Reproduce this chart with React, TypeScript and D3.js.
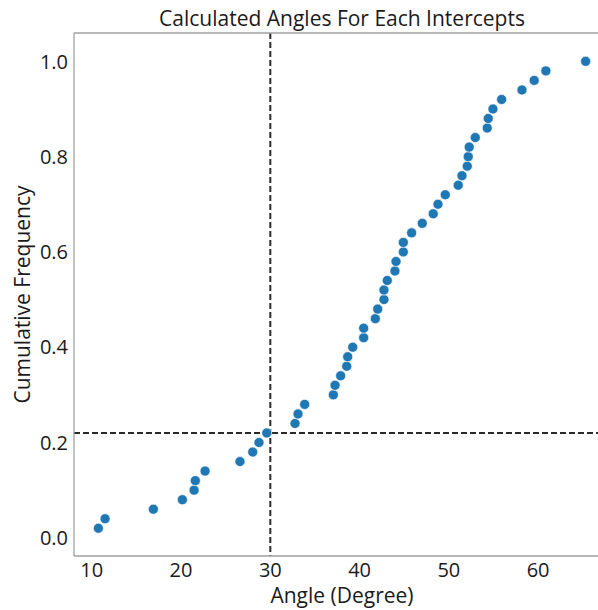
import React from "react";
import * as d3 from "d3";

// Sorted intercept angles (degrees) and their cumulative frequencies
const angles: number[] = [
  10.74, 11.49, 16.9, 20.15, 21.46, 21.6, 22.69, 26.6, 28.03, 28.73,
  29.6, 32.77, 33.1, 33.85, 37.06, 37.25, 37.88, 38.56, 38.67, 39.23,
  40.46, 40.46, 41.76, 42.03, 42.73, 42.73, 43.1, 43.96, 44.08, 44.9,
  44.9, 45.83, 47.02, 48.25, 48.78, 49.6, 51.05, 51.47, 52.06, 52.17,
  52.28, 52.96, 54.3, 54.41, 54.94, 55.91, 58.19, 59.56, 60.87, 65.32,
];
const cumFreq: number[] = angles.map((_, i) => (i + 1) / angles.length);

const xTicks: number[] = [10, 20, 30, 40, 50, 60];
const yTicks: number[] = [0, 0.2, 0.4, 0.6, 0.8, 1.0];

const refAngle = 30;
const refFreq = 0.22;

const title = "Calculated Angles For Each Intercepts";
const xLabel = "Angle (Degree)";
const yLabel = "Cumulative Frequency";

const W = 598;
const H = 610;
const plot = { left: 74, right: 610, top: 33, bottom: 556 };
const font = "'Open Sans', 'Noto Sans', sans-serif";

export default function App() {
  const x = d3.scaleLinear().domain([8.01, 68.05]).range([plot.left, plot.right]);
  const y = d3.scaleLinear().domain([-0.0382, 1.0595]).range([plot.bottom, plot.top]);
  const spine = "#a0a0a0";
  const text = "#1a1a1a";

  return (
    <svg width={W} height={H} style={{ position: "absolute", left: 0, top: 0, background: "#fff" }}>
      <defs>
        <clipPath id="plotArea">
          <rect x={plot.left} y={plot.top} width={plot.right - plot.left} height={plot.bottom - plot.top} />
        </clipPath>
      </defs>

      {/* reference lines */}
      <g clipPath="url(#plotArea)" stroke="#2a2a2a" strokeWidth={2} strokeDasharray="6,3">
        <line x1={x(refAngle)} x2={x(refAngle)} y1={plot.top} y2={plot.bottom} />
        <line x1={plot.left} x2={plot.right} y1={y(refFreq)} y2={y(refFreq)} />
      </g>

      {/* points */}
      <g>
        {angles.map((a, i) => (
          <circle key={i} cx={x(a)} cy={y(cumFreq[i])} r={5} fill="#1f77b4" stroke="#fff" strokeWidth={0.6} />
        ))}
      </g>

      {/* spines */}
      <g stroke={spine} strokeWidth={1.3} fill="none">
        <line x1={plot.left} x2={plot.left} y1={plot.top} y2={plot.bottom} />
        <line x1={plot.left} x2={plot.right} y1={plot.bottom} y2={plot.bottom} />
        <line x1={plot.left} x2={plot.right} y1={plot.top} y2={plot.top} />
      </g>

      {/* tick labels */}
      <g fontFamily={font} fontSize={20} fill={text}>
        {xTicks.map((t) => (
          <text key={t} x={x(t)} y={577} textAnchor="middle">{t}</text>
        ))}
        {yTicks.map((t) => (
          <text key={t} x={68} y={y(t)} dy="0.36em" textAnchor="end">{d3.format(".1f")(t)}</text>
        ))}
      </g>

      <text x={(plot.left + plot.right) / 2} y={26} textAnchor="middle" fontFamily={font} fontSize={21} fill={text}>{title}</text>
      <text x={(plot.left + plot.right) / 2} y={603} textAnchor="middle" fontFamily={font} fontSize={21} fill={text}>{xLabel}</text>
      <text transform={`translate(30,${(plot.top + plot.bottom) / 2}) rotate(-90)`} textAnchor="middle" fontFamily={font} fontSize={21} fill={text}>{yLabel}</text>
    </svg>
  );
}
